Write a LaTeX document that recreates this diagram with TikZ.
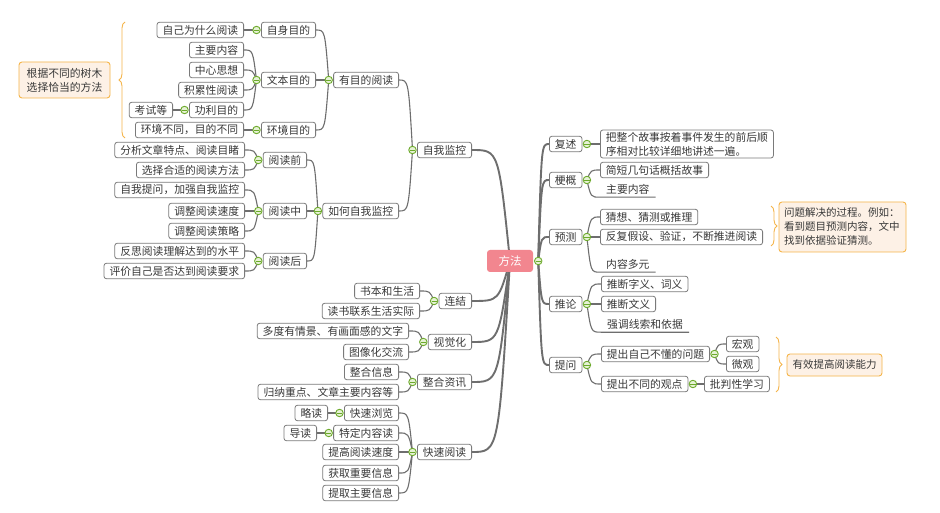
\documentclass[tikz,border=0pt]{standalone}
\usepackage{fontspec}
\setmainfont{Noto Sans CJK SC}
\usetikzlibrary{calc,decorations.pathreplacing}
\definecolor{boxgray}{HTML}{7A7A7A}
\definecolor{linegray}{HTML}{6E6E6E}
\definecolor{txt}{HTML}{383838}
\definecolor{kgreen}{HTML}{6DAA2C}
\definecolor{kfill}{HTML}{E6F2D5}
\definecolor{rootpink}{HTML}{F2868F}
\definecolor{noteorange}{HTML}{F5B54A}
\definecolor{notefill}{HTML}{FDF1E6}
\pgfdeclarelayer{bg}
\pgfdeclarelayer{paper}
\pgfsetlayers{paper,bg,main}
\newcommand{\lcn}[3][conn]{\begin{pgfonlayer}{bg}\draw[#1] (#2.center) .. controls ($(#2.center |- #3.east)!0.3!(#3.east)$) .. (#3.east);\end{pgfonlayer}}
\newcommand{\rcn}[3][conn]{\begin{pgfonlayer}{bg}\draw[#1] (#2.center) .. controls ($(#2.center |- #3.west)!0.3!(#3.west)$) .. (#3.west);\end{pgfonlayer}}
\newcommand{\rul}[2]{\begin{pgfonlayer}{bg}\draw[conn] (#1.center) .. controls ($(#1.center |- #2.south west)!0.3!(#2.south west)$) .. (#2.south west) -- (#2.south east);\end{pgfonlayer}}
\newcommand{\lknob}[1]{\node[knob] (k#1) at ([xshift=-4.5pt]#1.west) {};}
\newcommand{\rknob}[1]{\node[knob] (k#1) at ([xshift=4.5pt]#1.east) {};}
\begin{document}
\begin{tikzpicture}[x=1pt,y=-1pt,
  tbox/.style={draw=boxgray, fill=white, rounded corners=2.5pt, line width=0.8pt, inner xsep=5.5pt, inner ysep=0pt, minimum height=15.5pt, text=txt, font=\fontsize{10.8}{12}\selectfont},
  ltb/.style={tbox, anchor=east},
  rtb/.style={tbox, anchor=west},
  ulnode/.style={anchor=west, inner xsep=6pt, inner ysep=0pt, minimum height=15pt, text=txt, font=\fontsize{10.8}{12}\selectfont},
  knob/.style={circle, draw=kgreen, fill=kfill, line width=0.9pt, inner sep=0pt, minimum size=7.5pt,
    path picture={\draw[kgreen, line width=0.9pt] ([xshift=-2.6pt]path picture bounding box.center) -- ([xshift=2.6pt]path picture bounding box.center);}},
  conn/.style={draw=linegray, line width=1.1pt},
  trunk/.style={draw=linegray, line width=1.9pt},
  note/.style={draw=noteorange, fill=notefill, rounded corners=3pt, line width=0.9pt, text=txt, align=left},
  brace/.style={draw=noteorange, line width=0.9pt, decorate, decoration={brace, amplitude=6pt}},
  rootbox/.style={fill=rootpink, rounded corners=3pt, text=white, minimum width=46pt, minimum height=22pt, inner sep=0pt, font=\fontsize{11.5}{13}\selectfont}
]
\begin{pgfonlayer}{paper}
\fill[white] (0,0) rectangle (940,513);
\end{pgfonlayer}
\useasboundingbox (0,0) rectangle (940,513);

% root
\node[rootbox] (root) at (510,261) {方法};
\node[knob] (kroot) at ([xshift=5pt]root.east) {};

% ---------- left main branches
\node[ltb] (ml1) at (472,150) {自我监控};
\node[ltb] (ml2) at (472,301) {连結};
\node[ltb] (ml3) at (472,342) {视觉化};
\node[ltb] (ml4) at (472,382) {整合资讯};
\node[ltb] (ml5) at (472,452) {快速阅读};
\foreach \n in {ml1,ml2,ml3,ml4,ml5}{\lcn[trunk]{root}{\n}}
\lknob{ml1}\lknob{ml2}\lknob{ml3}\lknob{ml4}\lknob{ml5}

% 自我监控
\node[ltb] (a1) at (399,80) {有目的阅读};
\node[ltb] (a2) at (399,211) {如何自我监控};
\lcn{kml1}{a1}\lcn{kml1}{a2}
\lknob{a1}\lknob{a2}

\node[ltb] (a11) at (316,30) {自身目的};
\node[ltb] (a12) at (316,80) {文本目的};
\node[ltb] (a13) at (316,130) {环境目的};
\lcn{ka1}{a11}\lcn{ka1}{a12}\lcn{ka1}{a13}
\lknob{a11}\lknob{a12}\lknob{a13}

\node[ltb] (a111) at (244,30) {自己为什么阅读};
\lcn{ka11}{a111}
\node[ltb] (a121) at (244,50) {主要内容};
\node[ltb] (a122) at (244,70) {中心思想};
\node[ltb] (a123) at (244,90) {积累性阅读};
\node[ltb] (a124) at (244,110) {功利目的};
\lcn{ka12}{a121}\lcn{ka12}{a122}\lcn{ka12}{a123}\lcn{ka12}{a124}
\lknob{a124}
\node[ltb] (a1241) at (173,110) {考试等};
\lcn{ka124}{a1241}
\node[ltb] (a131) at (244,130) {环境不同，目的不同};
\lcn{ka13}{a131}

\node[ltb] (a21) at (307,160) {阅读前};
\node[ltb] (a22) at (307,211) {阅读中};
\node[ltb] (a23) at (307,261) {阅读后};
\lcn{ka2}{a21}\lcn{ka2}{a22}\lcn{ka2}{a23}
\lknob{a21}\lknob{a22}\lknob{a23}
\node[ltb] (a211) at (245,150) {分析文章特点、阅读目睹};
\node[ltb] (a212) at (245,170) {选择合适的阅读方法};
\lcn{ka21}{a211}\lcn{ka21}{a212}
\node[ltb] (a221) at (245,190) {自我提问，加强自我监控};
\node[ltb] (a222) at (245,211) {调整阅读速度};
\node[ltb] (a223) at (245,231) {调整阅读策略};
\lcn{ka22}{a221}\lcn{ka22}{a222}\lcn{ka22}{a223}
\node[ltb] (a231) at (245,251) {反思阅读理解达到的水平};
\node[ltb] (a232) at (245,271) {评价自己是否达到阅读要求};
\lcn{ka23}{a231}\lcn{ka23}{a232}

% 连結
\node[ltb] (b1) at (420,291) {书本和生活};
\node[ltb] (b2) at (420,311) {读书联系生活实际};
\lcn{kml2}{b1}\lcn{kml2}{b2}
% 视觉化
\node[ltb] (c1) at (409,331) {多度有情景、有画面感的文字};
\node[ltb] (c2) at (409,352) {图像化交流};
\lcn{kml3}{c1}\lcn{kml3}{c2}
% 整合资讯
\node[ltb] (d1) at (399,372) {整合信息};
\node[ltb] (d2) at (399,392) {归纳重点、文章主要内容等};
\lcn{kml4}{d1}\lcn{kml4}{d2}
% 快速阅读
\node[ltb] (e1) at (399,413) {快速浏览};
\node[ltb] (e2) at (399,433) {特定内容读};
\node[ltb] (e3) at (399,452) {提高阅读速度};
\node[ltb] (e4) at (399,473) {获取重要信息};
\node[ltb] (e5) at (399,493) {提取主要信息};
\lcn{kml5}{e1}\lcn{kml5}{e2}\lcn{kml5}{e3}\lcn{kml5}{e4}\lcn{kml5}{e5}
\lknob{e1}\lknob{e2}
\node[ltb] (e11) at (328,413) {略读};
\node[ltb] (e21) at (317,433) {导读};
\lcn{ke1}{e11}\lcn{ke2}{e21}

% left note
\node[note, minimum width=91pt, minimum height=36pt, inner xsep=5pt, font=\fontsize{10.8}{14}\selectfont] (ln) at (64.5,80) {根据不同的树木\\选择恰当的方法};
\draw[brace] (125,138) -- (125,22);

% ---------- right main branches
\node[rtb] (r1) at (549,144) {复述};
\node[rtb] (r2) at (549,180) {梗概};
\node[rtb] (r3) at (549,237) {预测};
\node[rtb] (r4) at (549,304) {推论};
\node[rtb] (r5) at (549,365) {提问};
\foreach \n in {r1,r2,r3,r4,r5}{\rcn[trunk]{kroot}{\n}}
\rknob{r1}\rknob{r2}\rknob{r3}\rknob{r4}\rknob{r5}

\node[rtb, minimum height=28pt, align=left, font=\fontsize{10.8}{14}\selectfont] (r11) at (600,144) {把整个故事按着事件发生的前后顺\\序相对比较详细地讲述一遍。};
\rcn{kr1}{r11}

\node[rtb] (r21) at (600,170) {简短几句话概括故事};
\node[ulnode] (r22) at (600,189.5) {主要内容};
\rcn{kr2}{r21}\rul{kr2}{r22}

\node[rtb] (r31) at (600,217) {猜想、猜测或推理};
\node[rtb] (r32) at (600,237) {反复假设、验证，不断推进阅读};
\node[ulnode] (r33) at (600,264.5) {内容多元};
\rcn{kr3}{r31}\rcn{kr3}{r32}\rul{kr3}{r33}

\node[rtb] (r41) at (601,284) {推断字义、词义};
\node[rtb] (r42) at (601,304) {推断文义};
\node[ulnode] (r43) at (601,324.5) {强调线索和依据};
\rcn{kr4}{r41}\rcn{kr4}{r42}\rul{kr4}{r43}

\node[rtb] (r51) at (601,354) {提出自己不懂的问题};
\node[rtb] (r52) at (601,384) {提出不同的观点};
\rcn{kr5}{r51}\rcn{kr5}{r52}
\rknob{r51}\rknob{r52}
\node[rtb] (r511) at (726,344) {宏观};
\node[rtb] (r512) at (726,364) {微观};
\rcn{kr51}{r511}\rcn{kr51}{r512}
\node[rtb] (r521) at (704,384) {批判性学习};
\rcn{kr52}{r521}

% right notes
\draw[brace] (771,206) -- (771,246);
\node[note, minimum width=127pt, minimum height=50pt, inner xsep=5pt, text width=117pt, font=\fontsize{10.5}{14}\selectfont] (rn1) at (842.5,227) {问题解决的过程。例如：\\看到题目预测内容，文中\\找到依据验证猜测。};
\draw[brace] (776,337) -- (776,392);
\node[note, minimum width=95pt, minimum height=22pt, inner xsep=5pt, font=\fontsize{10.5}{12}\selectfont] (rn2) at (834.5,365) {有效提高阅读能力};
\end{tikzpicture}
\end{document}
